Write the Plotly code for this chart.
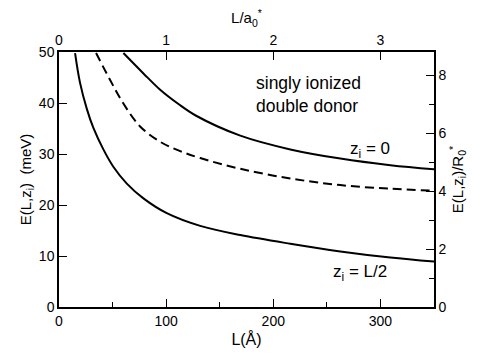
import plotly.graph_objects as go

# Data
L_half = [15, 19.6, 25.9, 32.1, 41.4, 50.7, 63.3, 78.8, 100.6, 131.8, 169.2, 215.9, 262.6, 309.3, 350]
E_half = [49.8, 44.0, 38.9, 35.1, 30.9, 27.5, 24.2, 21.3, 18.4, 15.9, 14.1, 12.4, 10.9, 9.7, 8.9]

L_dash = [34.6, 47.7, 60.1, 75.7, 94.4, 111.5, 131.8, 169.2, 215.9, 262.6, 309.3, 350]
E_dash = [49.8, 44.5, 39.9, 35.4, 32.4, 30.7, 29.2, 27.1, 25.2, 23.9, 23.2, 22.8]

L_zero = [60.1, 78.8, 94.4, 111.5, 128, 169.2, 215.9, 262.6, 309.3, 350]
E_zero = [49.8, 45.8, 42.6, 39.8, 37.5, 33.6, 30.9, 29.1, 27.8, 27.0]

x_ticks = [0, 100, 200, 300]
y_ticks = [0, 10, 20, 30, 40, 50]
top_ticks = [0, 1, 2, 3]
right_ticks = [0, 2, 4, 6, 8]

A0 = 100.0      # Å per a0*
R0 = 50 / 8.81  # meV per R0*

FONT = "Liberation Sans, Arial, sans-serif"

fig = go.Figure()
line = dict(color="black", width=2, shape="spline", smoothing=1.0)
fig.add_trace(go.Scatter(x=L_zero, y=E_zero, mode="lines", line=line, showlegend=False))
fig.add_trace(go.Scatter(x=L_dash, y=E_dash, mode="lines",
                         line=dict(line, dash="9px,5px"), showlegend=False))
fig.add_trace(go.Scatter(x=L_half, y=E_half, mode="lines", line=line, showlegend=False))
# invisible trace binding the secondary axes
fig.add_trace(go.Scatter(x=[0, 350 / A0], y=[0, 50 / R0], xaxis="x2", yaxis="y2",
                         mode="markers", marker=dict(opacity=0), showlegend=False,
                         hoverinfo="skip"))

axcommon = dict(showline=True, linecolor="black", linewidth=1.5, ticks="inside",
                tickcolor="black", tickwidth=1, ticklen=8, showgrid=False,
                zeroline=False, tickfont=dict(family=FONT, size=14, color="black"))

fig.update_layout(
    width=483, height=358,
    margin=dict(l=59, r=49, t=52, b=45),
    paper_bgcolor="white", plot_bgcolor="white",
    font=dict(family=FONT, color="black"),
    xaxis=dict(axcommon, range=[0, 350], tickvals=x_ticks,
               minor=dict(tickvals=[50, 150, 250], ticks="inside", ticklen=5,
                          tickcolor="black"),
               title=dict(text="L(Å)", font=dict(size=16), standoff=6)),
    yaxis=dict(axcommon, range=[0, 50], tickvals=y_ticks,
               title=dict(text="E(L,z<sub>i</sub>)  (meV)", font=dict(size=15), standoff=4)),
    xaxis2=dict(axcommon, overlaying="x", side="top", range=[0, 3.5], tickvals=top_ticks,
                title=dict(text="L/a<sub>0</sub><sup>*</sup>", font=dict(size=15), standoff=4)),
    yaxis2=dict(axcommon, overlaying="y", side="right", range=[0, 50 / R0],
                tickvals=right_ticks,
                minor=dict(tickvals=[1, 3, 5, 7], ticks="inside", ticklen=5,
                           tickcolor="black"),
                title=dict(text="E(L,z<sub>i</sub>)/R<sub>0</sub><sup>*</sup>",
                           font=dict(size=15), standoff=6)),
)

fig.add_annotation(x=233, y=41.6, xref="x", yref="y", showarrow=False,
                   text="singly ionized<br>double donor", align="left",
                   font=dict(family=FONT, size=17.5))
fig.add_annotation(x=290, y=30.8, xref="x", yref="y", showarrow=False,
                   text="z<sub>i</sub> = 0", font=dict(family=FONT, size=17))
fig.add_annotation(x=281, y=6.7, xref="x", yref="y", showarrow=False,
                   text="z<sub>i</sub> = L/2", font=dict(family=FONT, size=17))

fig.write_html("out.html")
